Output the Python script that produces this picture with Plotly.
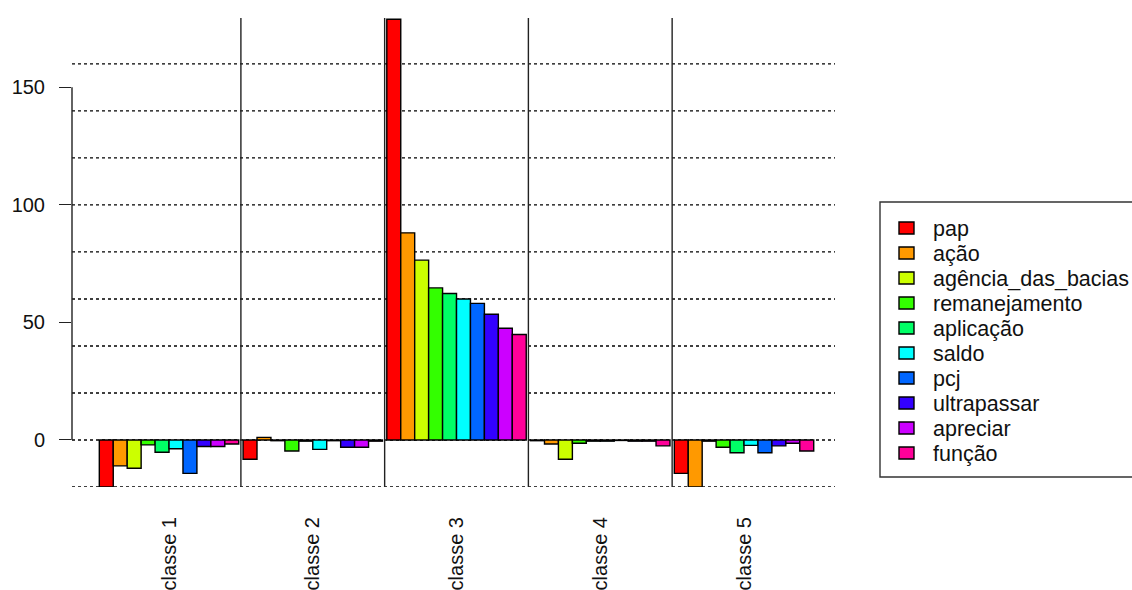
import plotly.graph_objects as go

classes = ["classe 1", "classe 2", "classe 3", "classe 4", "classe 5"]
words = ["pap", "ação", "agência_das_bacias", "remanejamento", "aplicação",
         "saldo", "pcj", "ultrapassar", "apreciar", "função"]
colors = ["#FF0000", "#FF9900", "#CCFF00", "#33FF00", "#00FF66",
          "#00FFFF", "#0066FF", "#3300FF", "#CC00FF", "#FF0099"]

# values per word across the 5 classes
pap = [-20, -8.2, 179, -0.3, -14.2]
acao = [-11, 1.1, 88.1, -1.7, -20]
agencia = [-12, -0.3, 76.5, -8.2, -0.5]
remanejamento = [-2.1, -4.7, 64.7, -1.4, -3.1]
aplicacao = [-5.2, -0.5, 62.3, -0.5, -5.4]
saldo = [-3.7, -4.0, 60.0, -0.5, -2.3]
pcj = [-14.2, -0.3, 58.1, -0.2, -5.4]
ultrapassar = [-2.8, -3.1, 53.5, -0.5, -2.5]
apreciar = [-2.8, -3.1, 47.5, -0.5, -1.4]
funcao = [-1.7, -0.5, 44.9, -2.5, -4.7]
series = [pap, acao, agencia, remanejamento, aplicacao, saldo, pcj,
          ultrapassar, apreciar, funcao]

grid_levels = [-20, 0, 20, 40, 60, 80, 100, 120, 140, 160]
y_ticks = [0, 50, 100, 150]

W, H = 1132, 590
ML, MR, MT, MB = 72, 1132 - 835, 18, 590 - 487
PW, PH = W - ML - MR, H - MT - MB


def px_x(p):
    return (p - ML) / PW


def px_y(p):
    return (H - MB - p) / PH


FONT = "Liberation Sans, Arial, sans-serif"
TXT = "#111"

fig = go.Figure()
for w, c, vals in zip(words, colors, series):
    fig.add_trace(go.Bar(x=classes, y=vals, name=w, marker=dict(
        color=c, line=dict(color="black", width=1.4)), showlegend=False))

shapes = []
for g in grid_levels:
    shapes.append(dict(type="line", xref="paper", yref="y", x0=0, x1=1, y0=g, y1=g,
                       line=dict(color="black", width=1.4, dash="dot"), layer="below"))
for i in range(len(classes) - 1):
    shapes.append(dict(type="line", xref="x", yref="paper", x0=i + 0.5, x1=i + 0.5,
                       y0=0, y1=1, line=dict(color="#222", width=1.4)))
# y axis line from 0 to 150
shapes.append(dict(type="line", xref="paper", yref="y", x0=0, x1=0, y0=y_ticks[0],
                   y1=y_ticks[-1], line=dict(color="#222", width=1.4)))

# manual legend
shapes.append(dict(type="rect", xref="paper", yref="paper", x0=px_x(880), x1=px_x(1140),
                   y0=px_y(477), y1=px_y(202), line=dict(color="#333", width=1.4),
                   fillcolor="white"))
annotations = []
for k, (w, c) in enumerate(zip(words, colors)):
    cy = 228 + 25 * k
    shapes.append(dict(type="rect", xref="paper", yref="paper", x0=px_x(899), x1=px_x(914),
                       y0=px_y(cy + 6), y1=px_y(cy - 6), fillcolor=c,
                       line=dict(color="black", width=1.4)))
    annotations.append(dict(xref="paper", yref="paper", x=px_x(931), y=px_y(cy + 1),
                            text=w, showarrow=False, xanchor="left", yanchor="middle",
                            font=dict(family=FONT, size=21.5, color=TXT)))

fig.update_layout(
    width=W, height=H,
    margin=dict(l=ML, r=MR, t=MT, b=MB, pad=0, autoexpand=False),
    paper_bgcolor="white", plot_bgcolor="white",
    barmode="group", bargap=0.03, bargroupgap=0,
    showlegend=False,
    shapes=shapes, annotations=annotations,
    font=dict(family=FONT, size=20, color=TXT),
    xaxis=dict(range=[-0.675, 4.633], showgrid=False, zeroline=False, showline=False,
               ticks="", tickangle=-90, tickfont=dict(size=20, color=TXT),
               ticklabelstandoff=25, automargin=False),
    yaxis=dict(range=[-20, 179.5], tickvals=y_ticks, showgrid=False, zeroline=False,
               showline=False, ticks="outside", ticklen=12, tickwidth=1.4,
               tickcolor="#222", tickfont=dict(size=20, color=TXT),
               ticklabelstandoff=10, automargin=False),
)

fig.write_html("out.html")
